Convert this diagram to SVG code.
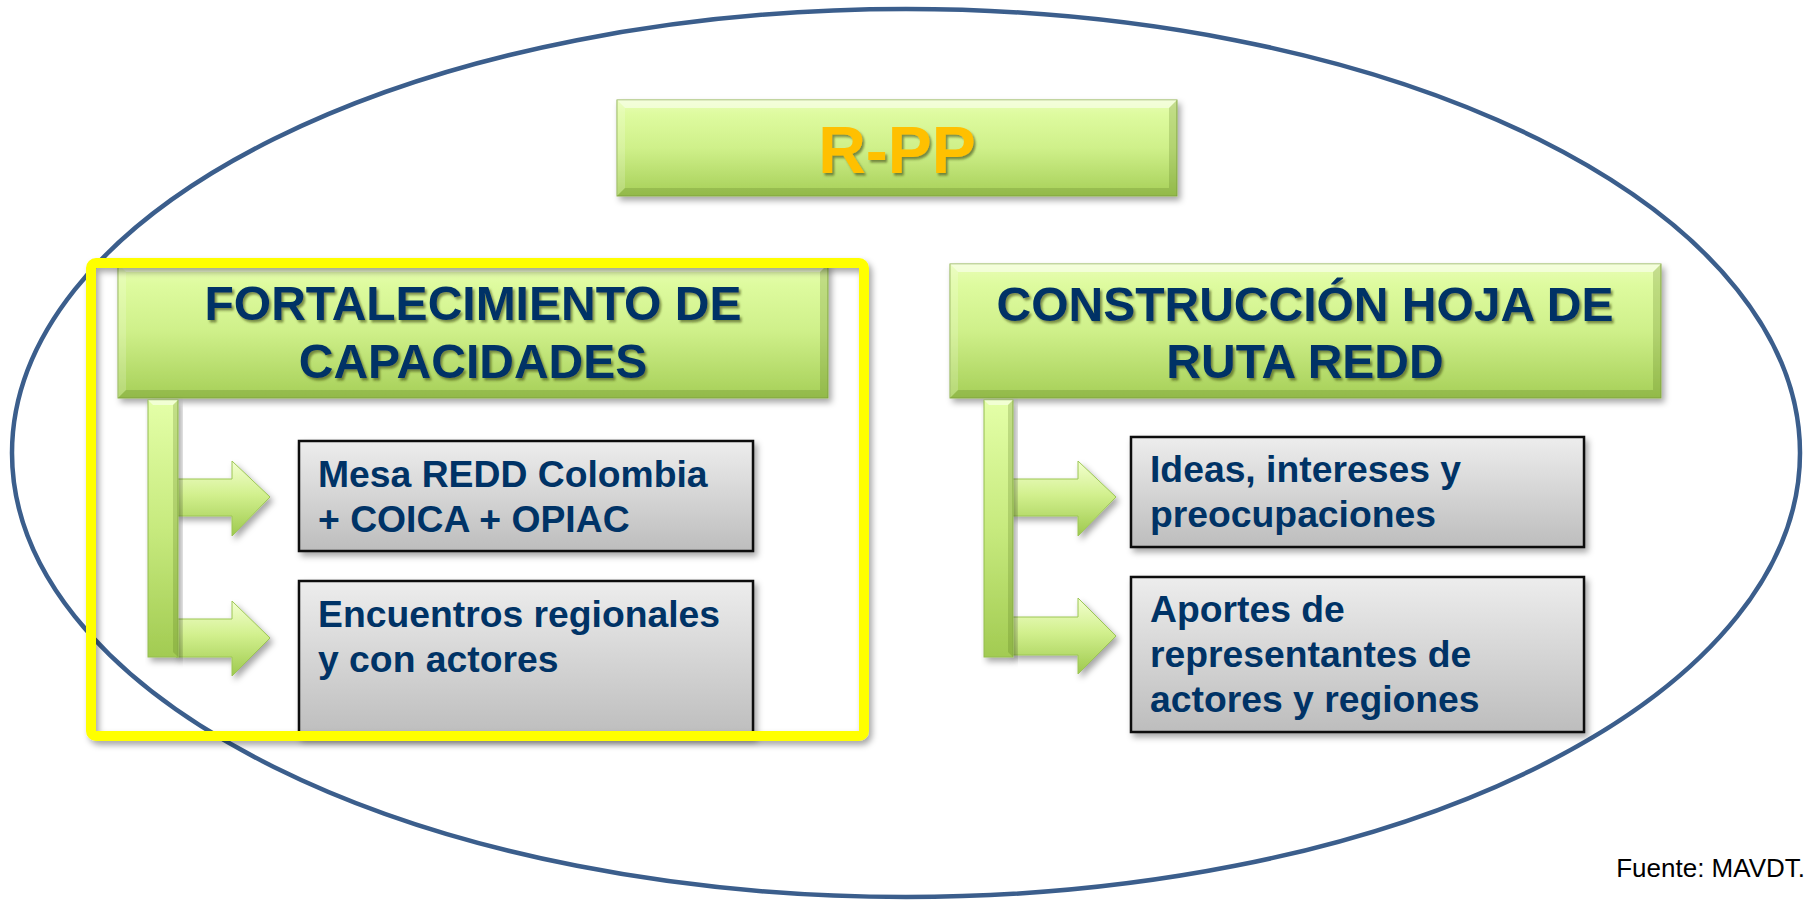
<svg xmlns="http://www.w3.org/2000/svg" width="1805" height="900" viewBox="0 0 1805 900">
  <defs>
    <linearGradient id="gGreen" x1="0" y1="0" x2="0" y2="1">
      <stop offset="0" stop-color="#e8fdb6"/>
      <stop offset="0.15" stop-color="#defb9f"/>
      <stop offset="0.5" stop-color="#cff08a"/>
      <stop offset="1" stop-color="#a6cf58"/>
    </linearGradient>
    <linearGradient id="gBar" x1="0" y1="0" x2="0" y2="1">
      <stop offset="0" stop-color="#e4ffa8"/>
      <stop offset="0.5" stop-color="#c7ea7e"/>
      <stop offset="1" stop-color="#a2cb52"/>
    </linearGradient>
    <linearGradient id="gArrow" x1="0" y1="0" x2="0" y2="1">
      <stop offset="0" stop-color="#f3ffd0"/>
      <stop offset="0.45" stop-color="#d2f08e"/>
      <stop offset="1" stop-color="#9ec94e"/>
    </linearGradient>
    <linearGradient id="gGray" x1="0" y1="0" x2="0" y2="1">
      <stop offset="0" stop-color="#ededed"/>
      <stop offset="1" stop-color="#bdbdbd"/>
    </linearGradient>
    <filter id="shadow" x="-10%" y="-10%" width="125%" height="130%">
      <feDropShadow dx="3" dy="4" stdDeviation="3" flood-color="#000" flood-opacity="0.35"/>
    </filter>
    <filter id="tshadow" x="-5%" y="-10%" width="115%" height="130%">
      <feDropShadow dx="2" dy="2.5" stdDeviation="1.3" flood-color="#3a4a12" flood-opacity="0.6"/>
    </filter>
    <style>
      .green { fill: url(#gGreen); stroke: #8db24a; stroke-width: 1; filter: url(#shadow); }
      .bevT { fill: #ffffff; opacity: 0.5; }
      .bevL { fill: #ffffff; opacity: 0.18; }
      .bevD { fill: #4f6e18; opacity: 0.22; }
      .gray { fill: url(#gGray); stroke: #111; stroke-width: 2.5; filter: url(#shadow); }
      .bar { fill: url(#gBar); stroke: #94bd50; stroke-width: 1; filter: url(#shadow); }
      .arrow { fill: url(#gArrow); stroke: #9cc655; stroke-width: 1; filter: url(#shadow); }
      .head { font-family: "Liberation Sans", Arial, sans-serif; font-weight: bold; font-size: 48px; fill: #003366; text-anchor: middle; filter: url(#tshadow); }
      .title { font-family: "Liberation Sans", Arial, sans-serif; font-weight: bold; font-size: 66px; fill: #ffc000; text-anchor: middle; filter: url(#tshadow); }
      .txt { font-family: "Liberation Sans", Arial, sans-serif; font-weight: bold; font-size: 37.3px; fill: #003366; }
      .src { font-family: "Liberation Sans", Arial, sans-serif; font-size: 26px; fill: #000; text-anchor: end; }
    </style>
  </defs>

  <rect x="0" y="0" width="1805" height="900" fill="#ffffff"/>

  <g id="frame">
    <ellipse cx="906" cy="453" rx="894" ry="444" fill="none" stroke="#3b5e8c" stroke-width="4.5"/>
  </g>

  <g id="rpp">
    <rect class="green" x="617" y="100" width="560" height="96"/>
    <polygon class="bevT" points="617,100 1177,100 1169,108 625,108"/>
    <polygon class="bevL" points="617,100 625,108 625,188 617,196"/>
    <polygon class="bevD" points="1177,100 1177,196 1169,188 1169,108"/>
    <polygon class="bevD" points="617,196 625,188 1169,188 1177,196"/>
    <text class="title" x="897" y="173">R-PP</text>
  </g>

  <g id="fortalecimiento">
    <rect class="green" x="118" y="264" width="710" height="134"/>
    <polygon class="bevT" points="118,264 828,264 820,272 126,272"/>
    <polygon class="bevL" points="118,264 126,272 126,390 118,398"/>
    <polygon class="bevD" points="828,264 828,398 820,390 820,272"/>
    <polygon class="bevD" points="118,398 126,390 820,390 828,398"/>
    <text class="head" x="473" y="320">FORTALECIMIENTO DE</text>
    <text class="head" x="473" y="378">CAPACIDADES</text>
  </g>

  <g id="construccion">
    <rect class="green" x="950" y="264" width="711" height="134"/>
    <polygon class="bevT" points="950,264 1661,264 1653,272 958,272"/>
    <polygon class="bevL" points="950,264 958,272 958,390 950,398"/>
    <polygon class="bevD" points="1661,264 1661,398 1653,390 1653,272"/>
    <polygon class="bevD" points="950,398 958,390 1653,390 1661,398"/>
    <text class="head" x="1305" y="321">CONSTRUCCIÓN HOJA DE</text>
    <text class="head" x="1305" y="378">RUTA REDD</text>
  </g>

  <g id="connectors">
    <path class="arrow" d="M176,479 H232 V461 L270,497 L232,536 V516 H176 Z"/>
    <path class="arrow" d="M176,619 H232 V601 L270,638 L232,676 V657 H176 Z"/>
    <rect class="bar" x="148" y="400" width="30" height="257"/>
    <polygon class="bevT" points="148,400 178,400 173,405 153,405"/>
    <polygon class="bevD" points="178,400 178,657 173,652 173,405"/>

    <path class="arrow" d="M1011,479 H1078 V461 L1116,497 L1078,536 V516 H1011 Z"/>
    <path class="arrow" d="M1011,617 H1078 V598 L1116,636 L1078,674 V655 H1011 Z"/>
    <rect class="bar" x="984" y="400" width="29" height="257"/>
    <polygon class="bevT" points="984,400 1013,400 1008,405 989,405"/>
    <polygon class="bevD" points="1013,400 1013,657 1008,652 1008,405"/>
  </g>

  <g id="mesa">
    <rect class="gray" x="299" y="441" width="454" height="110"/>
    <text class="txt" x="318" y="487">Mesa REDD Colombia</text>
    <text class="txt" x="318" y="532">+ COICA + OPIAC</text>
  </g>

  <g id="encuentros">
    <rect class="gray" x="299" y="581" width="454" height="156"/>
    <text class="txt" x="318" y="627">Encuentros regionales</text>
    <text class="txt" x="318" y="672">y con actores</text>
  </g>

  <g id="ideas">
    <rect class="gray" x="1131" y="437" width="453" height="110"/>
    <text class="txt" x="1150" y="482">Ideas, intereses y</text>
    <text class="txt" x="1150" y="527">preocupaciones</text>
  </g>

  <g id="aportes">
    <rect class="gray" x="1131" y="577" width="453" height="155"/>
    <text class="txt" x="1150" y="622">Aportes de</text>
    <text class="txt" x="1150" y="667">representantes de</text>
    <text class="txt" x="1150" y="712">actores y regiones</text>
  </g>

  <g id="highlight">
    <rect x="91" y="263" width="773" height="473" rx="5" fill="none" stroke="#ffff00" stroke-width="10" filter="url(#shadow)"/>
  </g>

  <g id="source">
    <text class="src" x="1805" y="877">Fuente: MAVDT.</text>
  </g>
</svg>
